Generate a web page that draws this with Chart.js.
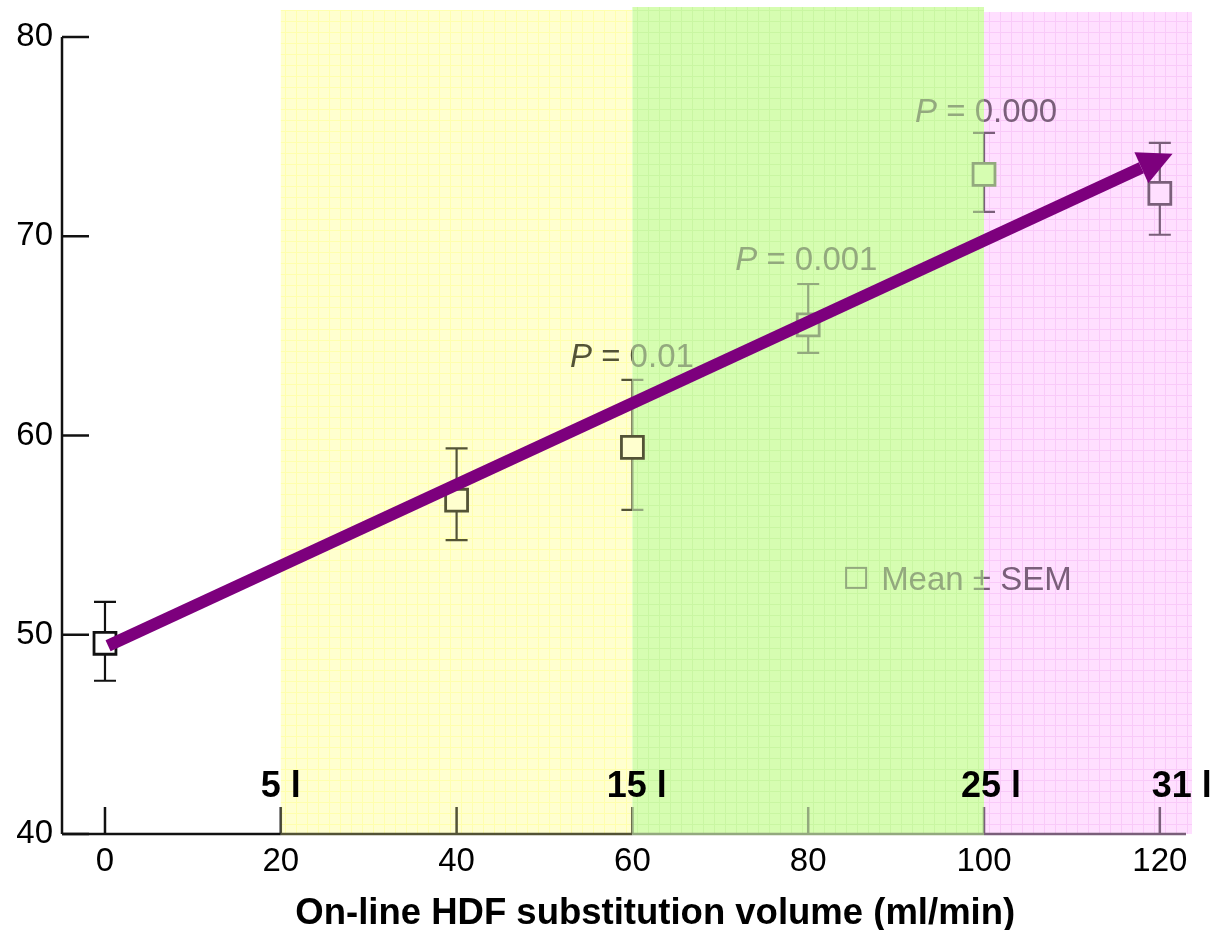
<!DOCTYPE html>
<html lang="en">
<head>
    <meta charset="UTF-8">
    <title>On-line HDF substitution volume</title>
    <script src="https://cdn.jsdelivr.net/npm/chart.js@4.4.8/dist/chart.umd.min.js"></script>
    <style>
        html, body { margin: 0; padding: 0; background: #fff; }
        #wrap { width: 1215px; height: 930px; }
    </style>
</head>
<body>
    <div id="wrap"><canvas id="mainChart" width="1215" height="930"></canvas></div>

    <script>
        // data
        const xValues = [0, 40, 60, 80, 100, 120];
        const meanValues = [49.57, 56.75, 59.4, 65.55, 73.1, 72.15];
        const semLow = [47.69, 54.75, 56.27, 64.14, 71.22, 70.07];
        const semHigh = [51.65, 59.35, 62.79, 67.6, 75.18, 74.68];

        const xTickValues = [0, 20, 40, 60, 80, 100, 120];
        const yTickValues = [40, 50, 60, 70, 80];
        const xTitle = 'On-line HDF substitution volume (ml/min)';

        // coloured volume bands
        const bandStarts = [20, 60, 100];
        const bandEnds = [60, 100, 123.66];
        const bandTops = [81.35, 81.5, 81.25];

        const volumeLabels = ['5 l', '15 l', '25 l', '31 l'];
        const volumeLabelX = [20, 60.5, 100.8, 122.5];
        const volumeLabelY = 41.86;

        const pValues = ['0.01', '0.001', '0.000'];
        const pLabelX = [52.9, 71.7, 92.15];
        const pLabelY = [63.44, 68.3, 75.73];
        const legendX = 84.2, legendY = 52.25;

        const arrowLine = [{x: 0.35, y: 49.45}, {x: 117.9, y: 73.43}];
        const arrowTip = {x: 121.45, y: 74.13};

        const FONT = "'Liberation Sans', Arial, Helvetica, sans-serif";
        const PURPLE = '#7d007d';
        const bandFill = ['#ffffcf', '#d6fdb1', '#ffdfff'];
        const bandLine = ['#ffffae', '#c9f6a2', '#f9caf9'];
        const inkRegions = [
            [-Infinity, 20, '#111111', '#ffffff'],
            [20, 60, '#535336', bandFill[0]],
            [60, 100, '#93a97e', bandFill[1]],
            [100, Infinity, '#7a5f7a', bandFill[2]]
        ];

        function regionFor(v) {
            return inkRegions.find(r => v > r[0] && v <= r[1]);
        }

        function makePattern(ctx, fill, line) {
            const c = document.createElement('canvas');
            c.width = 11; c.height = 11;
            const g = c.getContext('2d');
            g.fillStyle = fill; g.fillRect(0, 0, 11, 11);
            g.fillStyle = line; g.fillRect(10, 0, 1, 11); g.fillRect(0, 10, 11, 1);
            return ctx.createPattern(c, 'repeat');
        }

        // draw something once per band region, clipped, with that region's ink
        function withInk(chart, draw) {
            const ctx = chart.ctx, xs = chart.scales.x;
            inkRegions.forEach(r => {
                const l = isFinite(r[0]) ? xs.getPixelForValue(r[0]) : 0;
                const rr = isFinite(r[1]) ? xs.getPixelForValue(r[1]) : chart.width;
                ctx.save();
                ctx.beginPath();
                ctx.rect(l, 0, rr - l, chart.height);
                ctx.clip();
                draw(ctx, r[2]);
                ctx.restore();
            });
        }

        const figurePlugin = {
            id: 'figure',
            beforeDatasetsDraw(chart) {
                const ctx = chart.ctx, xs = chart.scales.x, ys = chart.scales.y;
                const area = chart.chartArea;

                // bands
                bandStarts.forEach((s, i) => {
                    const l = xs.getPixelForValue(s), r = xs.getPixelForValue(bandEnds[i]);
                    const t = ys.getPixelForValue(bandTops[i]);
                    ctx.fillStyle = makePattern(ctx, bandFill[i], bandLine[i]);
                    ctx.fillRect(l, t, r - l, area.bottom - t);
                });

                withInk(chart, (ctx, ink) => {
                    ctx.strokeStyle = ink;
                    ctx.fillStyle = ink;

                    // axis lines
                    ctx.lineWidth = 2.5;
                    ctx.beginPath();
                    ctx.moveTo(area.left, ys.getPixelForValue(40));
                    ctx.lineTo(area.left, ys.getPixelForValue(80));
                    ctx.moveTo(area.left, area.bottom);
                    ctx.lineTo(area.right - 6, area.bottom);
                    ctx.stroke();

                    // inward tick marks
                    yTickValues.forEach(v => {
                        const y = ys.getPixelForValue(v);
                        ctx.beginPath();
                        ctx.moveTo(area.left, y);
                        ctx.lineTo(area.left + 27, y);
                        ctx.stroke();
                    });
                    xTickValues.forEach(v => {
                        const x = xs.getPixelForValue(v);
                        ctx.beginPath();
                        ctx.moveTo(x, area.bottom);
                        ctx.lineTo(x, area.bottom - 27);
                        ctx.stroke();
                    });

                    // error bars
                    ctx.lineWidth = 2.2;
                    xValues.forEach((xv, i) => {
                        const x = xs.getPixelForValue(xv);
                        const lo = ys.getPixelForValue(semLow[i]);
                        const hi = ys.getPixelForValue(semHigh[i]);
                        ctx.beginPath();
                        ctx.moveTo(x, lo); ctx.lineTo(x, hi);
                        ctx.moveTo(x - 11, lo); ctx.lineTo(x + 11, lo);
                        ctx.moveTo(x - 11, hi); ctx.lineTo(x + 11, hi);
                        ctx.stroke();
                    });

                    // P annotations
                    ctx.textBaseline = 'alphabetic';
                    ctx.textAlign = 'left';
                    pValues.forEach((p, i) => {
                        let x = xs.getPixelForValue(pLabelX[i]);
                        const y = ys.getPixelForValue(pLabelY[i]);
                        ctx.font = 'italic 33px ' + FONT;
                        ctx.fillText('P', x, y);
                        x += ctx.measureText('P').width;
                        ctx.font = '33px ' + FONT;
                        ctx.fillText(' = ' + p, x, y);
                    });

                    // Mean ± SEM key
                    const lx = xs.getPixelForValue(legendX), ly = ys.getPixelForValue(legendY);
                    ctx.lineWidth = 2;
                    ctx.strokeRect(lx + 1, ly - 22, 20, 20);
                    ctx.font = '33px ' + FONT;
                    ctx.fillText('Mean \u00b1 SEM', lx + 36, ly);
                });
            },
            afterDatasetsDraw(chart) {
                const ctx = chart.ctx, xs = chart.scales.x, ys = chart.scales.y;

                // arrow head
                const last = arrowLine[arrowLine.length - 1];
                const bx = xs.getPixelForValue(last.x), by = ys.getPixelForValue(last.y);
                const tx = xs.getPixelForValue(arrowTip.x), ty = ys.getPixelForValue(arrowTip.y);
                const len = Math.hypot(tx - bx, ty - by);
                const px = -(ty - by) / len, py = (tx - bx) / len;
                const half = 17;
                ctx.save();
                ctx.fillStyle = PURPLE;
                ctx.beginPath();
                ctx.moveTo(tx, ty);
                ctx.lineTo(bx + px * half, by + py * half);
                ctx.lineTo(bx - px * half, by - py * half);
                ctx.closePath();
                ctx.fill();

                // substitution volume labels
                ctx.fillStyle = '#000';
                ctx.font = 'bold 36px ' + FONT;
                ctx.textAlign = 'center';
                ctx.textBaseline = 'alphabetic';
                volumeLabels.forEach((t, i) => {
                    ctx.fillText(t, xs.getPixelForValue(volumeLabelX[i]), ys.getPixelForValue(volumeLabelY));
                });

                // x axis title, sits a little right of the plot centre in the original
                ctx.font = 'bold 36.5px ' + FONT;
                ctx.fillText(xTitle, xs.getPixelForValue(62.6), chart.height - 6);
                ctx.restore();
            }
        };

        const meanPoints = xValues.map((x, i) => ({x: x, y: meanValues[i]}));

        const ctx = document.getElementById('mainChart').getContext('2d');
        const mainChart = new Chart(ctx, {
            type: 'scatter',
            data: {
                datasets: [
                    {
                        label: 'trend',
                        data: arrowLine,
                        showLine: true,
                        borderColor: PURPLE,
                        borderWidth: 12,
                        borderCapStyle: 'butt',
                        pointRadius: 0,
                        order: 0
                    },
                    {
                        label: 'Mean ± SEM',
                        data: meanPoints,
                        pointStyle: 'rect',
                        pointRadius: 15.5,
                        pointBorderWidth: 2.8,
                        pointBorderColor: c => regionFor(xValues[c.dataIndex])[2],
                        pointBackgroundColor: c => regionFor(xValues[c.dataIndex])[3],
                        order: 1
                    }
                ]
            },
            options: {
                responsive: false,
                animation: false,
                layout: { autoPadding: false, padding: { left: 0, right: 23, top: 7, bottom: 0 } },
                plugins: {
                    legend: { display: false },
                    tooltip: { enabled: false }
                },
                scales: {
                    x: {
                        type: 'linear',
                        min: -4.89,
                        max: 123.66,
                        afterBuildTicks: s => { s.ticks = xTickValues.map(v => ({value: v})); },
                        afterFit: s => {
                            s.height = 96;
                            s.paddingLeft = 0; s.paddingRight = 0;
                        },
                        grid: { display: false, drawTicks: false },
                        border: { display: false },
                        ticks: {
                            color: '#000',
                            padding: 8,
                            maxRotation: 0,
                            autoSkip: false,
                            font: { size: 33, family: FONT }
                        }
                    },
                    y: {
                        type: 'linear',
                        min: 40,
                        max: 81.5,
                        afterBuildTicks: s => { s.ticks = yTickValues.map(v => ({value: v})); },
                        afterFit: s => {
                            s.width = 62;
                            s.paddingTop = 0; s.paddingBottom = 0;
                        },
                        grid: { display: false, drawTicks: false },
                        border: { display: false },
                        ticks: {
                            color: '#000',
                            padding: 9,
                            font: { size: 33, family: FONT }
                        }
                    }
                }
            },
            plugins: [figurePlugin]
        });
    </script>
</body>
</html>
